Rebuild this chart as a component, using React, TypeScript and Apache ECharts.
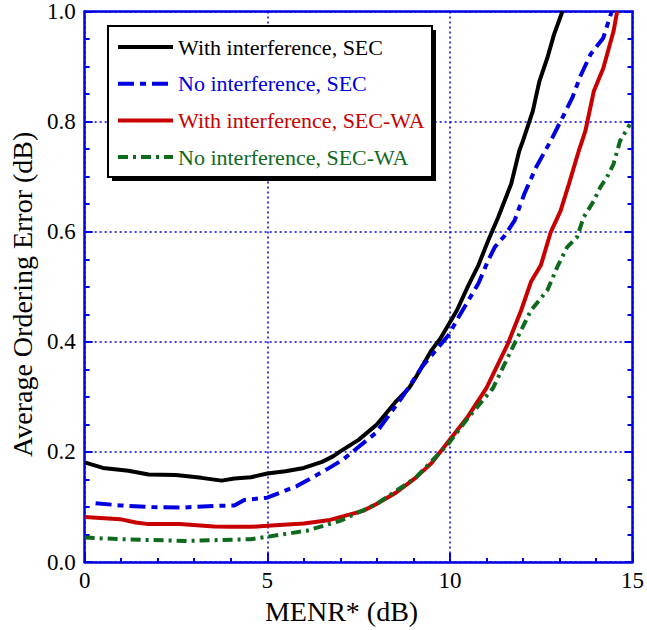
import React, { useEffect, useRef } from "react";
import * as echarts from "echarts";

const xWithSEC = [0, 0.5, 1.2, 1.75, 2.5, 3.2, 3.75, 4.1, 4.55, 5, 5.5, 6, 6.5, 6.8, 7, 7.5, 8, 8.5, 8.88, 9.06, 9.5, 9.74, 10.19, 10.51, 10.78, 11.05, 11.32, 11.68, 11.9, 12.0, 12.27, 12.45, 12.67, 12.85, 13.08];
const yWithSEC = [0.181, 0.171, 0.166, 0.159, 0.158, 0.153, 0.148, 0.152, 0.154, 0.161, 0.165, 0.171, 0.182, 0.192, 0.201, 0.222, 0.25, 0.29, 0.316, 0.335, 0.385, 0.406, 0.457, 0.503, 0.539, 0.584, 0.626, 0.687, 0.747, 0.765, 0.819, 0.873, 0.916, 0.958, 1.0];

const xNoSEC = [0.3, 0.97, 1.84, 2.65, 3.55, 4.1, 4.37, 5, 5.81, 6.62, 7.07, 7.98, 8.7, 9.24, 9.96, 10.24, 10.78, 11.05, 11.23, 11.5, 11.77, 12.04, 12.36, 12.76, 13.08, 13.35, 13.57, 13.85, 14.2, 14.43];
const yNoSEC = [0.107, 0.103, 0.1, 0.099, 0.102, 0.103, 0.113, 0.117, 0.138, 0.168, 0.186, 0.235, 0.3, 0.355, 0.412, 0.445, 0.506, 0.548, 0.572, 0.593, 0.62, 0.669, 0.717, 0.765, 0.807, 0.843, 0.882, 0.922, 0.952, 1.0];

const xWithWA = [0, 0.97, 1.4, 1.75, 2.6, 3.55, 4, 4.55, 5, 6, 6.72, 7.62, 7.98, 8.52, 9.06, 9.5, 9.96, 10.5, 11.0, 11.59, 11.95, 12.22, 12.49, 12.76, 13.03, 13.26, 13.53, 13.71, 13.94, 14.2, 14.48, 14.58];
const yWithWA = [0.082, 0.078, 0.072, 0.069, 0.069, 0.0645, 0.064, 0.064, 0.066, 0.07, 0.0766, 0.093, 0.105, 0.126, 0.153, 0.18, 0.219, 0.265, 0.316, 0.397, 0.457, 0.509, 0.539, 0.599, 0.638, 0.687, 0.747, 0.783, 0.855, 0.897, 0.964, 1.0];

const xNoWA = [0, 0.97, 1.84, 2.75, 3.66, 4.55, 5, 6.08, 7, 7.98, 9.06, 9.96, 10.5, 11.18, 11.77, 12.22, 12.67, 12.94, 13.21, 13.48, 13.66, 13.94, 14.12, 14.3, 14.48, 14.66, 14.93];
const yNoWA = [0.0446, 0.0416, 0.04, 0.0385, 0.04, 0.0416, 0.046, 0.057, 0.075, 0.105, 0.153, 0.215, 0.262, 0.316, 0.397, 0.457, 0.494, 0.536, 0.572, 0.59, 0.626, 0.656, 0.681, 0.699, 0.723, 0.765, 0.795];

const seriesNames = [
  "With interference, SEC",
  "No interference, SEC",
  "With interference, SEC-WA",
  "No interference, SEC-WA",
];
const seriesColors = ["#000000", "#0000e0", "#c80000", "#0f6a1e"];

const FONT = "Times New Roman, Liberation Serif, serif";
const AXIS = "#0000e0";

const zip = (xs: number[], ys: number[]) => xs.map((x, i) => [x, ys[i]]);

export default function App() {
  const ref = useRef<HTMLDivElement>(null);
  useEffect(() => {
    if (!ref.current) return;
    const chart = echarts.init(ref.current, null, { renderer: "svg" });
    const dashes: any[] = ["solid", [16, 6, 6, 6], "solid", [10, 5, 3, 5]];
    const datasets = [
      zip(xWithSEC, yWithSEC),
      zip(xNoSEC, yNoSEC),
      zip(xWithWA, yWithWA),
      zip(xNoWA, yNoWA),
    ];
    chart.setOption({
      animation: false,
      backgroundColor: "#ffffff",
      textStyle: { fontFamily: FONT },
      grid: { left: 82, top: 10, width: 554, height: 553, containLabel: false },
      xAxis: [
        {
          type: "value",
          min: 0,
          max: 15,
          interval: 5,
          name: "MENR* (dB)",
          nameLocation: "middle",
          nameGap: 31,
          nameTextStyle: { fontFamily: FONT, fontSize: 28, color: "#000", padding: [0, 34, 0, 0] },
          axisLine: { show: true, onZero: false, lineStyle: { color: AXIS, width: 2.5 } },
          axisTick: { show: true, inside: true, length: 9, lineStyle: { color: AXIS, width: 2 } },
          minorTick: { show: true, splitNumber: 5, length: 4, lineStyle: { color: AXIS, width: 2 } },
          axisLabel: { fontFamily: FONT, fontSize: 23, color: "#000", margin: 7 },
          splitLine: { show: true, lineStyle: { color: AXIS, width: 1.5, type: [2, 3] } },
        },
        {
          type: "value",
          position: "top",
          min: 0,
          max: 15,
          interval: 5,
          axisLine: { show: true, onZero: false, lineStyle: { color: AXIS, width: 2.5 } },
          axisTick: { show: false },
          axisLabel: { show: false },
          splitLine: { show: false },
        },
      ],
      yAxis: [
        {
          type: "value",
          min: 0,
          max: 1,
          interval: 0.2,
          name: "Average Ordering Error (dB)",
          nameLocation: "middle",
          nameGap: 43,
          nameTextStyle: { fontFamily: FONT, fontSize: 28, color: "#000", padding: [0, 15, 0, 0] },
          axisLine: { show: true, onZero: false, lineStyle: { color: AXIS, width: 2.5 } },
          axisTick: { show: true, inside: true, length: 8, lineStyle: { color: AXIS, width: 2 } },
          minorTick: { show: true, splitNumber: 4, length: 5, lineStyle: { color: AXIS, width: 2 } },
          axisLabel: {
            fontFamily: FONT,
            fontSize: 23,
            color: "#000",
            margin: 9,
            formatter: (v: number) => v.toFixed(1),
          },
          splitLine: { show: true, lineStyle: { color: AXIS, width: 1.5, type: [2, 3] } },
        },
        {
          type: "value",
          position: "right",
          min: 0,
          max: 1,
          interval: 0.2,
          axisLine: { show: true, onZero: false, lineStyle: { color: AXIS, width: 2.5 } },
          axisTick: { show: true, inside: true, length: 8, lineStyle: { color: AXIS, width: 2 } },
          minorTick: { show: true, splitNumber: 4, length: 5, lineStyle: { color: AXIS, width: 2 } },
          axisLabel: { show: false },
          splitLine: { show: false },
        },
      ],
      legend: {
        orient: "vertical",
        left: 116,
        top: 36,
        padding: 0,
        itemWidth: 55,
        itemHeight: 14,
        itemGap: 14.7,
        z: 10,
        selectedMode: false,
        itemStyle: { opacity: 0 },
        data: seriesNames.map((n, i) => ({
          name: n,
          itemStyle: { opacity: 0 },
          lineStyle: { width: 4 },
          textStyle: { color: seriesColors[i], fontFamily: FONT, fontSize: 22, lineHeight: 22 },
        })),
      },
      graphic: [
        { type: "rect", z: 5, shape: { x: 112, y: 30, width: 324, height: 151 }, style: { fill: "#000" } },
        {
          type: "rect",
          z: 6,
          shape: { x: 108, y: 26, width: 324, height: 151 },
          style: { fill: "#fff", stroke: "#000", lineWidth: 2 },
        },
      ],
      series: datasets.map((d, i) => ({
        name: seriesNames[i],
        type: "line",
        data: d,
        showSymbol: false,
        symbol: "none",
        smooth: false,
        z: 3,
        lineStyle: { color: seriesColors[i], width: 4, type: dashes[i] },
        itemStyle: { color: seriesColors[i] },
      })),
    });
    return () => chart.dispose();
  }, []);
  return <div ref={ref} style={{ width: 647, height: 630, position: "absolute", left: 0, top: 0 }} />;
}
